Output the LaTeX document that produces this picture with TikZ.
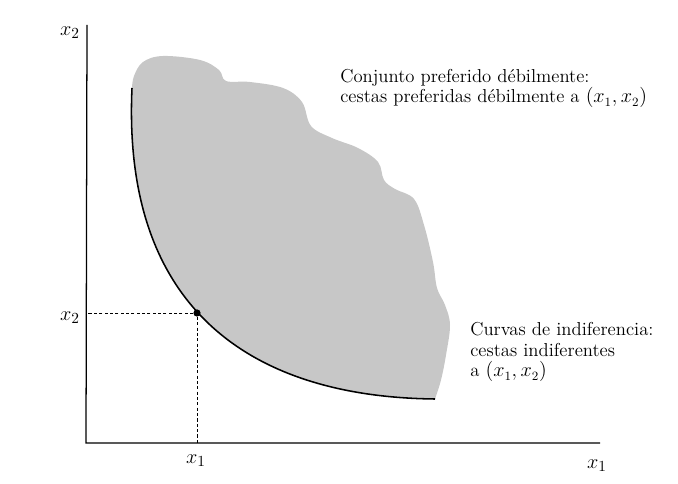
\documentclass[tikz,border=0pt]{standalone}
\usepackage{amsmath}
\usetikzlibrary{positioning, calc}

\begin{document}
\begin{tikzpicture}[x=0.025cm, y=-0.025cm,
	axis/.style={line width=0.9pt},
	guide/.style={dash pattern=on 2.2pt off 1.6pt, line width=0.6pt},
	bundle/.style={circle, fill=black, inner sep=0pt, minimum size=0.18cm},
	label/.style={font=\fontsize{13.3}{14.6}\selectfont, inner sep=0pt, align=left},
	ticklabel/.style={font=\fontsize{15}{15}\selectfont, inner sep=0pt},
	prefset/.style={fill=black!22, draw=none},
	indcurve/.style={line width=1.1pt}
]
\useasboundingbox (0,0) rectangle (678,484);

% Axes
\coordinate (O) at (86,443);
\coordinate (Ytop) at (87,25);
\coordinate (Xend) at (600,443);
\draw[axis] (Ytop) -- (O) -- (Xend);

% Weakly preferred set
\coordinate (Ctop) at (132,88);
\coordinate (Cend) at (435,399);
\fill[prefset] (Ctop) .. controls (122,308) and (250,397) .. (Cend)
	-- plot[smooth, tension=0.6] coordinates {(435,399) (441,380) (446,355) (450,325)
		(445,305) (437,288) (433,262) (424,225) (414,199) (395,189) (384,180)
		(378,162) (358,148) (332,138) (311,126) (302,102) (283,88) (250,82)
		(226,81) (219,70) (200,60) (163,56) (143,62) (134,76) (132,88)} -- cycle;

% Indifference curve through the bundle
\draw[indcurve] (Ctop) .. controls (122,308) and (250,397) .. (Cend);
\node[bundle] (A) at (197,313) {};
\draw[guide] (A) -- (A -| O);
\draw[guide] (A) -- (A |- O);

% Axis labels
\node[ticklabel] (x2axis) at (70,33) {$x_2$};
\node[ticklabel] (x2tick) at (70,318) {$x_2$};
\node[ticklabel] (x1tick) at (196,461) {$x_1$};
\node[ticklabel] (x1axis) at (597,466) {$x_1$};

% Descriptions (base = last line)
\node[label, anchor=base west] (preftext) at (340,103)
	{Conjunto preferido débilmente:\\cestas preferidas débilmente a $(x_1, x_2)$};
\node[label, anchor=base west] (indtext) at (470,377)
	{Curvas de indiferencia:\\cestas indiferentes\\a $(x_1, x_2)$};
\end{tikzpicture}
\end{document}
